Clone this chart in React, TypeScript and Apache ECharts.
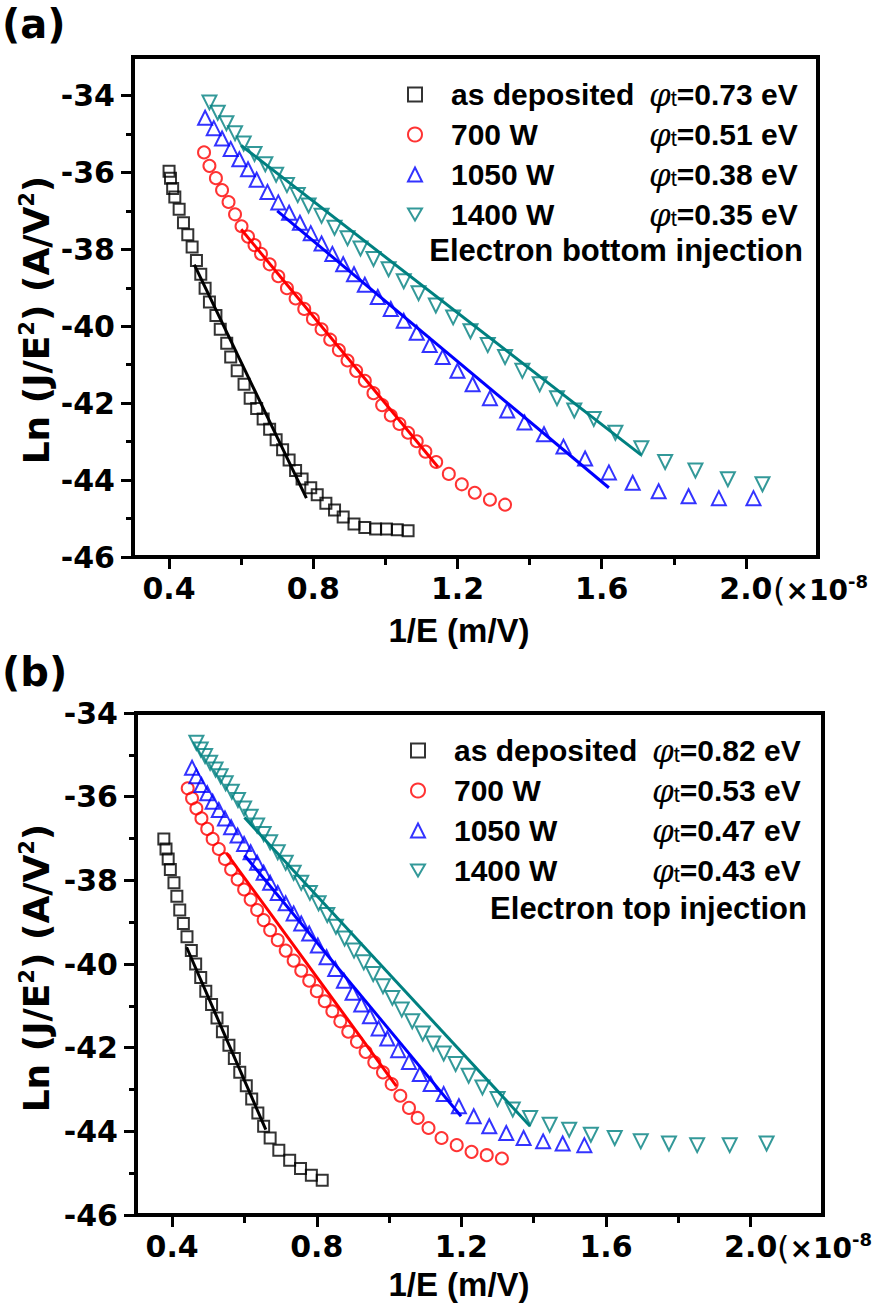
import React, { useEffect, useRef } from 'react';
import * as echarts from 'echarts';

// ---------- data (x in 1e-8 m/V, y = Ln(J/E^2)) ----------
const SERIES_NAMES = ['as deposited', '700 W', '1050 W', '1400 W'];
const A_PHI = ['0.73', '0.51', '0.38', '0.35'];
const B_PHI = ['0.82', '0.53', '0.47', '0.43'];
const X_MAJOR = [0.4, 0.8, 1.2, 1.6, 2.0];
const X_MINOR = [0.6, 1.0, 1.4, 1.8];
const Y_MAJOR = [-46, -44, -42, -40, -38, -36, -34];
const Y_MINOR = [-45, -43, -41, -39, -37, -35];

// Panel (a): electron bottom injection
const A_ASDEP = [[0.40,-35.97],[0.404,-36.15],[0.41,-36.42],[0.416,-36.64],[0.428,-36.96],[0.44,-37.31],[0.452,-37.62],[0.464,-37.94],[0.476,-38.29],[0.488,-38.65],[0.50,-39.01],[0.512,-39.37],[0.53,-39.72],[0.542,-40.08],[0.56,-40.44],[0.571,-40.80],[0.589,-41.16],[0.608,-41.51],[0.625,-41.87],[0.643,-42.14],[0.661,-42.41],[0.679,-42.68],[0.697,-42.95],[0.715,-43.21],[0.733,-43.48],[0.751,-43.75],[0.769,-43.97],[0.793,-44.20],[0.811,-44.38],[0.835,-44.60],[0.859,-44.78],[0.883,-44.96],[0.913,-45.14],[0.943,-45.23],[0.973,-45.27],[1.003,-45.27],[1.033,-45.29],[1.063,-45.32]];
const A_700 = [[0.497,-35.48],[0.512,-35.83],[0.53,-36.15],[0.547,-36.46],[0.565,-36.77],[0.583,-37.09],[0.601,-37.40],[0.619,-37.67],[0.637,-37.89],[0.655,-38.12],[0.679,-38.39],[0.703,-38.70],[0.727,-39.01],[0.751,-39.28],[0.775,-39.55],[0.799,-39.81],[0.823,-40.08],[0.847,-40.35],[0.871,-40.62],[0.895,-40.89],[0.919,-41.16],[0.943,-41.42],[0.967,-41.74],[0.991,-42.05],[1.015,-42.32],[1.039,-42.54],[1.063,-42.77],[1.087,-42.99],[1.111,-43.26],[1.141,-43.53],[1.176,-43.84],[1.212,-44.11],[1.248,-44.33],[1.29,-44.51],[1.332,-44.64]];
const A_1050 = [[0.50,-34.58],[0.524,-34.85],[0.547,-35.12],[0.571,-35.39],[0.595,-35.66],[0.619,-35.92],[0.643,-36.19],[0.673,-36.51],[0.703,-36.78],[0.733,-37.05],[0.763,-37.31],[0.793,-37.58],[0.823,-37.85],[0.853,-38.12],[0.883,-38.39],[0.913,-38.65],[0.943,-38.92],[0.979,-39.24],[1.015,-39.55],[1.051,-39.86],[1.087,-40.17],[1.123,-40.49],[1.159,-40.80],[1.20,-41.16],[1.242,-41.51],[1.29,-41.87],[1.338,-42.19],[1.386,-42.50],[1.44,-42.81],[1.494,-43.13],[1.554,-43.44],[1.62,-43.80],[1.686,-44.07],[1.758,-44.29],[1.841,-44.42],[1.925,-44.47],[2.021,-44.47]];
const A_1400 = [[0.512,-34.18],[0.535,-34.45],[0.559,-34.72],[0.583,-34.98],[0.607,-35.25],[0.637,-35.52],[0.667,-35.79],[0.697,-36.06],[0.727,-36.33],[0.757,-36.59],[0.787,-36.86],[0.823,-37.13],[0.859,-37.44],[0.895,-37.71],[0.931,-37.98],[0.967,-38.25],[1.009,-38.52],[1.051,-38.83],[1.092,-39.14],[1.14,-39.46],[1.188,-39.77],[1.236,-40.13],[1.284,-40.49],[1.332,-40.80],[1.38,-41.16],[1.428,-41.51],[1.476,-41.87],[1.524,-42.19],[1.578,-42.41],[1.638,-42.77],[1.71,-43.17],[1.776,-43.53],[1.86,-43.75],[1.95,-43.98],[2.046,-44.11]];
const A_FIT_ASDEP = [[0.47,-38.4],[0.781,-44.47]];
const A_FIT_700 = [[0.60,-37.48],[1.146,-43.66]];
const A_FIT_1050 = [[0.70,-37.0],[1.62,-44.2]];
const A_FIT_1400 = [[0.60,-35.3],[1.71,-43.35]];

// Panel (b): electron top injection
const B_ASDEP = [[0.377,-37.01],[0.383,-37.25],[0.389,-37.49],[0.395,-37.74],[0.405,-38.06],[0.413,-38.38],[0.421,-38.71],[0.431,-39.03],[0.441,-39.35],[0.453,-39.68],[0.465,-40.00],[0.479,-40.32],[0.493,-40.65],[0.509,-40.97],[0.524,-41.29],[0.539,-41.62],[0.557,-41.94],[0.572,-42.26],[0.587,-42.59],[0.605,-42.91],[0.62,-43.23],[0.637,-43.56],[0.653,-43.88],[0.671,-44.16],[0.695,-44.45],[0.725,-44.69],[0.755,-44.89],[0.785,-45.05],[0.815,-45.17]];
const B_700 = [[0.443,-35.80],[0.455,-36.04],[0.467,-36.28],[0.481,-36.52],[0.497,-36.77],[0.512,-37.01],[0.529,-37.25],[0.546,-37.49],[0.563,-37.74],[0.581,-37.98],[0.599,-38.22],[0.617,-38.46],[0.635,-38.71],[0.653,-38.95],[0.671,-39.19],[0.692,-39.43],[0.714,-39.68],[0.736,-39.92],[0.757,-40.16],[0.779,-40.40],[0.80,-40.65],[0.822,-40.89],[0.843,-41.13],[0.865,-41.37],[0.887,-41.62],[0.911,-41.86],[0.935,-42.10],[0.959,-42.35],[0.983,-42.59],[1.007,-42.87],[1.031,-43.15],[1.055,-43.44],[1.079,-43.68],[1.109,-43.92],[1.145,-44.16],[1.187,-44.33],[1.228,-44.49],[1.27,-44.57],[1.312,-44.65]];
const B_1050 = [[0.455,-35.31],[0.467,-35.51],[0.481,-35.72],[0.497,-35.92],[0.512,-36.12],[0.529,-36.32],[0.546,-36.52],[0.563,-36.73],[0.581,-36.93],[0.599,-37.13],[0.617,-37.33],[0.635,-37.58],[0.653,-37.82],[0.671,-38.06],[0.692,-38.30],[0.714,-38.55],[0.736,-38.79],[0.757,-39.03],[0.779,-39.27],[0.803,-39.56],[0.827,-39.84],[0.851,-40.12],[0.875,-40.40],[0.899,-40.69],[0.923,-40.97],[0.947,-41.25],[0.971,-41.54],[0.995,-41.78],[1.025,-42.06],[1.055,-42.34],[1.085,-42.63],[1.115,-42.87],[1.151,-43.11],[1.193,-43.40],[1.234,-43.64],[1.277,-43.88],[1.324,-44.04],[1.372,-44.16],[1.426,-44.24],[1.48,-44.29],[1.54,-44.33]];
const B_1400 = [[0.467,-34.71],[0.479,-34.87],[0.491,-35.03],[0.505,-35.19],[0.52,-35.35],[0.534,-35.51],[0.548,-35.68],[0.565,-35.88],[0.582,-36.08],[0.599,-36.28],[0.617,-36.48],[0.635,-36.69],[0.653,-36.89],[0.671,-37.09],[0.692,-37.33],[0.714,-37.58],[0.736,-37.82],[0.757,-38.06],[0.781,-38.30],[0.805,-38.55],[0.829,-38.83],[0.853,-39.11],[0.877,-39.39],[0.903,-39.68],[0.93,-39.96],[0.956,-40.24],[0.983,-40.53],[1.009,-40.81],[1.035,-41.09],[1.064,-41.37],[1.093,-41.66],[1.122,-41.90],[1.151,-42.14],[1.184,-42.39],[1.22,-42.67],[1.258,-42.95],[1.30,-43.23],[1.342,-43.48],[1.39,-43.68],[1.444,-43.84],[1.498,-43.96],[1.558,-44.08],[1.624,-44.16],[1.696,-44.24],[1.774,-44.29],[1.852,-44.33],[1.942,-44.33],[2.044,-44.29]];
const B_FIT_ASDEP = [[0.44,-39.6],[0.659,-43.96]];
const B_FIT_700 = [[0.55,-37.35],[1.02,-42.92]];
const B_FIT_1050 = [[0.60,-37.4],[1.199,-43.64]];
const B_FIT_1400 = [[0.60,-36.5],[1.39,-43.88]];

// ---------- styling ----------
const FONT = 'Liberation Sans, Arial, sans-serif';
const WIDE = 'DejaVu Sans, Verdana, sans-serif';
const COLORS = ['#000000', '#ff0000', '#0000ff', '#008080'];
const SYMBOLS = ['rect', 'circle', 'triangle', 'triangle'];
const SYM_SIZE = [11, 12, 14, 14];
const SYM_ROT = [0, 0, 0, 180];
const DOWN_TRIANGLE = 'path://M0,0L20,0L10,17.3Z';

function scatter(name: string, data: number[][], i: number, axis: number) {
  return {
    type: 'scatter', name, data, xAxisIndex: axis, yAxisIndex: axis,
    symbol: SYMBOLS[i], symbolSize: SYM_SIZE[i], symbolRotate: SYM_ROT[i],
    itemStyle: { color: 'rgba(0,0,0,0)', borderColor: COLORS[i], borderWidth: 2 },
    z: 2,
  };
}
function fit(data: number[][], i: number, axis: number) {
  return {
    type: 'line', name: 'fit', data, xAxisIndex: axis, yAxisIndex: axis,
    showSymbol: false, symbol: 'none', lineStyle: { color: COLORS[i], width: 3 }, z: 3,
  };
}

const tickFont = { color: '#000', fontSize: 30, fontWeight: 'bold', fontFamily: WIDE };

function xAxes(grid: number) {
  return [
    {
      type: 'value', gridIndex: grid, min: 0.3, max: 2.2, position: 'bottom',
      axisLine: { show: true, onZero: false, lineStyle: { color: '#000', width: 4 } },
      axisTick: { show: true, customValues: X_MAJOR, length: 12, lineStyle: { color: '#000', width: 3 } },
      axisLabel: { customValues: X_MAJOR, formatter: (v: number) => v.toFixed(1), ...tickFont, margin: 16 },
      splitLine: { show: false },
    },
    {
      type: 'value', gridIndex: grid, min: 0.3, max: 2.2, position: 'bottom',
      axisLine: { show: false },
      axisTick: { show: true, customValues: X_MINOR, length: 8, lineStyle: { color: '#000', width: 3 } },
      axisLabel: { show: false },
      splitLine: { show: false },
    },
  ];
}
function yAxes(grid: number, max: number) {
  return [
    {
      type: 'value', gridIndex: grid, min: -46, max, position: 'left',
      axisLine: { show: true, onZero: false, lineStyle: { color: '#000', width: 4 } },
      axisTick: { show: true, customValues: Y_MAJOR, length: 12, lineStyle: { color: '#000', width: 3 } },
      axisLabel: { customValues: Y_MAJOR, formatter: (v: number) => String(v), ...tickFont, margin: 18 },
      splitLine: { show: false },
    },
    {
      type: 'value', gridIndex: grid, min: -46, max, position: 'left',
      axisLine: { show: false },
      axisTick: { show: true, customValues: Y_MINOR, length: 7, lineStyle: { color: '#000', width: 3 } },
      axisLabel: { show: false },
      splitLine: { show: false },
    },
  ];
}

const legendRich = {
  s: { width: 24, fontSize: 30, lineHeight: 30 },
  n: { width: 198, fontSize: 30, fontWeight: 'bold', fontFamily: FONT, color: '#000', lineHeight: 30 },
  p: { fontSize: 31, fontStyle: 'italic', fontFamily: 'DejaVu Serif, Liberation Serif, serif', color: '#000', lineHeight: 30 },
  t: { fontSize: 22, fontFamily: FONT, color: '#000', lineHeight: 30, verticalAlign: 'bottom' },
  v: { fontSize: 30, fontWeight: 'bold', fontFamily: FONT, color: '#000', lineHeight: 30 },
};
function legend(top: number, left: number, phis: string[]) {
  return {
    orient: 'vertical', left, top, padding: 0, itemGap: 9, itemWidth: 14, itemHeight: 14,
    data: SERIES_NAMES.map((n, i) => (i === 3 ? { name: n, icon: DOWN_TRIANGLE } : { name: n })),
    selectedMode: false,
    formatter: (name: string) => `{s| }{n|${name}}{p|φ}{t|t}{v|=${phis[SERIES_NAMES.indexOf(name)]} eV}`,
    textStyle: { rich: legendRich },
  };
}

function yName(y: number) {
  return {
    type: 'text', x: 36, y, rotation: Math.PI / 2,
    style: {
      text: '{a|Ln (J/E}{s|2}{a|) (A/V}{s|2}{a|)}', align: 'center', verticalAlign: 'middle',
      rich: {
        a: { fontSize: 36, fontWeight: 'bold', fontFamily: WIDE, fill: '#000', lineHeight: 40 },
        s: { fontSize: 21, fontWeight: 'bold', fontFamily: WIDE, fill: '#000', lineHeight: 40, verticalAlign: 'top' },
      },
    },
  };
}
function xName(y: number) {
  return { type: 'text', x: 459, y, style: { text: '1/E (m/V)', align: 'center', verticalAlign: 'middle', font: `bold 33px ${FONT}`, fill: '#000' } };
}
function scaleNote(x: number, y: number) {
  return {
    type: 'text', x, y,
    style: {
      text: '{p|(}{a|×10}{s|-8}', verticalAlign: 'middle', align: 'left',
      rich: {
        p: { fontSize: 32, fontFamily: WIDE, fill: '#000', lineHeight: 36 },
        a: { fontSize: 28, fontWeight: 'bold', fontFamily: WIDE, fill: '#000', lineHeight: 36 },
        s: { fontSize: 18, fontWeight: 'bold', fontFamily: WIDE, fill: '#000', lineHeight: 36, verticalAlign: 'top' },
      },
    },
  };
}

export default function App() {
  const ref = useRef<HTMLDivElement>(null);
  useEffect(() => {
    if (!ref.current) return;
    const chart = echarts.init(ref.current, null, { renderer: 'svg' });
    const option: any = {
      animation: false,
      backgroundColor: '#fff',
      grid: [
        { left: 133, top: 57, width: 685, height: 500, show: true, borderColor: '#000', borderWidth: 4, containLabel: false },
        { left: 136, top: 713, width: 687, height: 502, show: true, borderColor: '#000', borderWidth: 4, containLabel: false },
      ],
      xAxis: [...xAxes(0), ...xAxes(1)],
      yAxis: [...yAxes(0, -33), ...yAxes(1, -34)],
      legend: [legend(79, 407, A_PHI), legend(735, 410, B_PHI)],
      series: [
        scatter(SERIES_NAMES[0], A_ASDEP, 0, 0),
        scatter(SERIES_NAMES[1], A_700, 1, 0),
        scatter(SERIES_NAMES[2], A_1050, 2, 0),
        scatter(SERIES_NAMES[3], A_1400, 3, 0),
        fit(A_FIT_ASDEP, 0, 0), fit(A_FIT_700, 1, 0), fit(A_FIT_1050, 2, 0), fit(A_FIT_1400, 3, 0),
        scatter(SERIES_NAMES[0], B_ASDEP, 0, 2),
        scatter(SERIES_NAMES[1], B_700, 1, 2),
        scatter(SERIES_NAMES[2], B_1050, 2, 2),
        scatter(SERIES_NAMES[3], B_1400, 3, 2),
        fit(B_FIT_ASDEP, 0, 2), fit(B_FIT_700, 1, 2), fit(B_FIT_1050, 2, 2), fit(B_FIT_1400, 3, 2),
      ],
      graphic: [
        { type: 'text', x: 2, y: 24, style: { text: '(a)', verticalAlign: 'middle', font: `bold 40px ${WIDE}`, fill: '#000' } },
        { type: 'text', x: 2, y: 672, style: { text: '(b)', verticalAlign: 'middle', font: `bold 40px ${WIDE}`, fill: '#000' } },
        { type: 'text', x: 803, y: 250, style: { text: 'Electron bottom injection', align: 'right', verticalAlign: 'middle', font: `bold 31px ${FONT}`, fill: '#000' } },
        { type: 'text', x: 807, y: 908, style: { text: 'Electron top injection', align: 'right', verticalAlign: 'middle', font: `bold 31px ${FONT}`, fill: '#000' } },
        yName(320), yName(968),
        xName(630), xName(1284),
        scaleNote(773, 590), scaleNote(777, 1248),
      ],
    };
    chart.setOption(option);
    return () => chart.dispose();
  }, []);
  return <div ref={ref} style={{ position: 'absolute', left: 0, top: 0, width: 896, height: 1311, background: '#fff' }} />;
}
